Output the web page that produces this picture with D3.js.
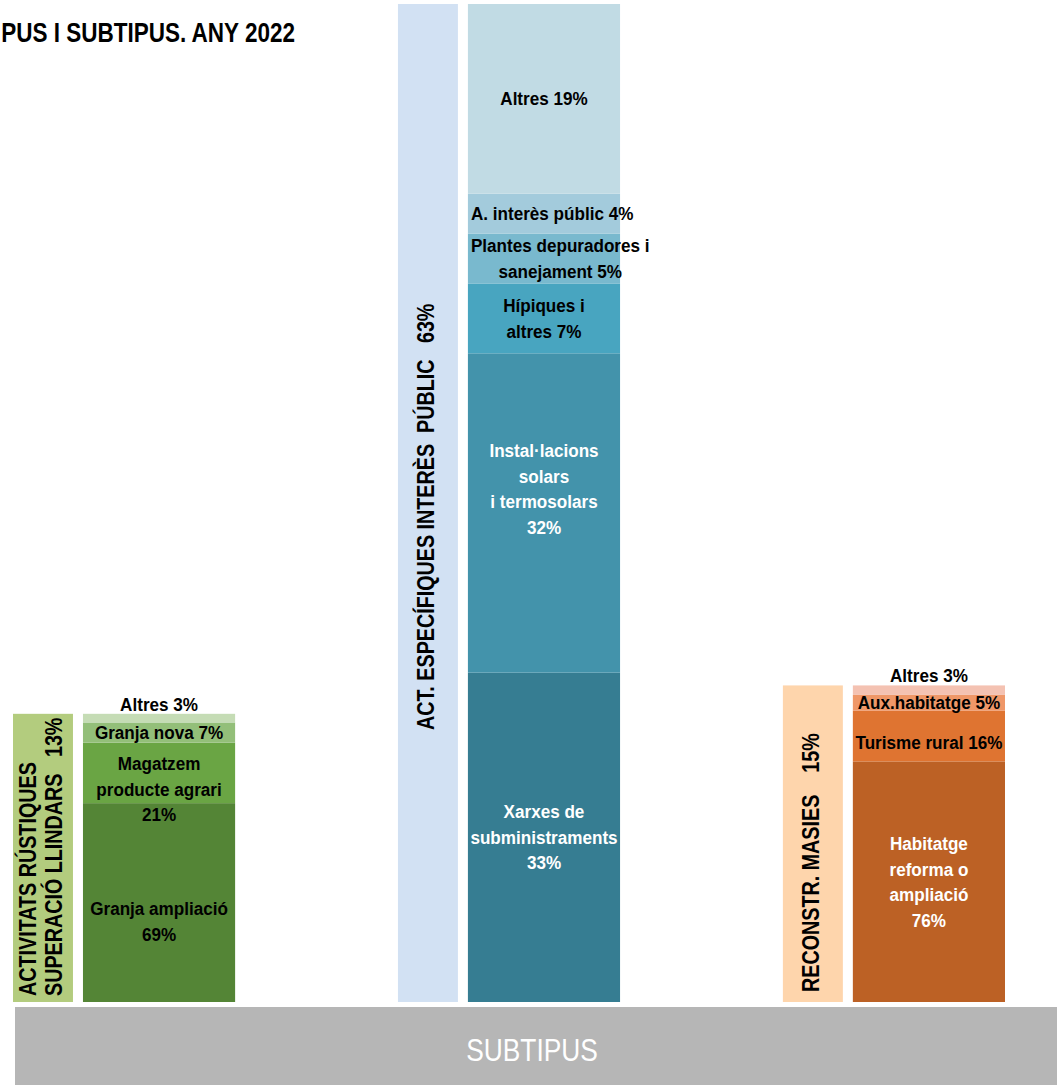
<!DOCTYPE html>
<html><head><meta charset="utf-8">
<script src="https://cdn.jsdelivr.net/npm/d3@7"></script>
<style>
body{margin:0;background:#fff;overflow:hidden;}
svg{display:block;}
text{font-family:"Liberation Sans",Arial,sans-serif;white-space:pre;}
</style></head><body>
<svg id="chart" width="1057" height="1085"></svg>
<script>
// ---------------- data ----------------
const title = "PUS I SUBTIPUS. ANY 2022";
const axisTitle = "SUBTIPUS";
const groups = ["RUS", "AEIP", "MAS"];
const typeNames = ["ACTIVITATS RÚSTIQUES\nSUPERACIÓ LLINDARS   ", "ACT. ESPECÍFIQUES INTERÈS  PÚBLIC   ", "RECONSTR. MASIES    "];
const typeValues = [13, 63, 15];
// subtypes listed from the bottom of each stack to the top
const rusNames = ["Granja ampliació\n", "Magatzem\nproducte agrari\n", "Granja nova ", "Altres "];
const rusValues = [69, 21, 7, 3];
const aeipNames = ["Xarxes de\nsubministraments\n", "Instal·lacions\nsolars\ni termosolars\n", "Hípiques i\naltres ", "Plantes depuradores i\nsanejament ", "A. interès públic ", "Altres "];
const aeipValues = [33, 32, 7, 5, 4, 19];
const masNames = ["Habitatge\nreforma o\nampliació\n", "Turisme rural ", "Aux.habitatge ", "Altres "];
const masValues = [76, 16, 5, 3];

// ---------------- styles ----------------
const typeColors = ["#b3cc7e", "#d2e1f3", "#fed5ac"];
const subColors = [
  ["#548536", "#6aa544", "#93bf79", "#c5dcb5"],
  ["#367d92", "#4393ab", "#48a5c0", "#79b9ce", "#a3cbdc", "#c1dbe4"],
  ["#bc6125", "#df7431", "#ef9768", "#f4c2b2"]
];
const subTextColors = [
  ["#000", "#000", "#000", "#000"],
  ["#fff", "#fff", "#000", "#000", "#000", "#000"],
  ["#fff", "#000", "#000", "#000"]
];
const labelNudge = {"0:0": 19, "0:1": 16, "1:1": -24, "2:1": 6};
const typeLabelStart = [6, 272, 10];
const NARROW_LBL = 0.9, NARROW_TYPE = 0.84, NARROW_AXIS = 0.85;

const subNames = [rusNames, aeipNames, masNames];
const subValues = [rusValues, aeipValues, masValues];

const svg = d3.select("#chart");
const FONT_LBL = 19, LH = 25.5;

// ---------------- scales ----------------
const x0 = d3.scaleBand().domain(groups).range([13, 1005]).paddingInner(0.423).paddingOuter(0);
const xi = d3.scaleLinear().domain([0, 1]).range([0, x0.bandwidth()]);
const y = d3.scaleLinear().domain([-7.3, 63]).range([1002, 4]);
const yBase = y(y.domain()[0]);

// ---------------- title ----------------
const titleT = svg.append("text").attr("text-anchor", "end")
  .attr("font-size", 27).attr("font-weight", "bold").attr("fill", "#000").text(title);
const tw = titleT.node().getComputedTextLength();
titleT.attr("transform", `translate(295,42) scale(${294 / tw},1)`);

// ---------------- bottom band ----------------
svg.append("rect").attr("x", 15).attr("y", 1007).attr("width", 1050).attr("height", 80).attr("fill", "#b6b6b6");
svg.append("text").attr("transform", `translate(532,1061) scale(${NARROW_AXIS},1)`).attr("text-anchor", "middle")
  .attr("font-size", 31).attr("fill", "#fff").text(axisTitle);

// ---------------- groups ----------------
groups.forEach((g, gi) => {
  const gx = x0(g);
  const tv = typeValues[gi];
  const tx0 = gx + xi(0), tx1 = gx + xi(0.27);
  const sx0 = gx + xi(0.315), sx1 = gx + xi(1);
  const G = svg.append("g");

  // type bar
  G.append("rect").attr("x", tx0).attr("y", y(tv)).attr("width", tx1 - tx0)
    .attr("height", yBase - y(tv)).attr("fill", typeColors[gi]);

  // type label (rotated)
  const tLines = (typeNames[gi] + tv + "%").split("\n");
  const tcx = (tx0 + tx1) / 2;
  const FT = 23.5, TLH = 26;
  const firstBase = tcx + FT * 0.35 - (tLines.length - 1) / 2 * TLH - 2;
  const tt = G.append("text")
    .attr("transform", `translate(${firstBase},${yBase - typeLabelStart[gi]}) rotate(-90) scale(${NARROW_TYPE},1)`)
    .attr("font-size", FT).attr("font-weight", "bold").attr("fill", "#000");
  tLines.forEach((l, k) => tt.append("tspan").attr("x", 0).attr("y", k * TLH).text(l));

  // stacked subtype bar
  const vals = subValues[gi];
  const s = d3.scaleLinear().domain([0, d3.sum(vals)]).range([yBase, y(tv)]);
  const cum = [0, ...d3.cumsum(vals)];
  vals.forEach((v, i) => {
    const top = s(cum[i + 1]), bot = s(cum[i]);
    G.append("rect").attr("x", sx0).attr("y", top).attr("width", sx1 - sx0)
      .attr("height", bot - top).attr("fill", subColors[gi][i]);
  });
  vals.forEach((v, i) => {
    const top = s(cum[i + 1]), bot = s(cum[i]);
    const lines = (subNames[gi][i] + v + "%").split("\n");
    const n = lines.length;
    const cy = (top + bot) / 2 + (labelNudge[gi + ":" + i] || 0);
    let firstBaseY;
    if (bot - top < 14 && i === vals.length - 1) {
      firstBaseY = top - 3 - (n - 1) * LH;
    } else {
      firstBaseY = cy + FONT_LBL * 0.35 - (n - 1) / 2 * LH;
    }
    const t = G.append("text").attr("text-anchor", "middle").attr("font-size", FONT_LBL)
      .attr("font-weight", "bold").attr("fill", subTextColors[gi][i]);
    const spans = lines.map((l, k) => t.append("tspan").attr("x", 0).attr("y", firstBaseY + k * LH).text(l));
    const maxW = d3.max(spans, sp => sp.node().getComputedTextLength()) * NARROW_LBL;
    let cx = (sx0 + sx1) / 2;
    if (maxW > sx1 - sx0 - 4) cx = sx0 + 3 + maxW / 2;
    t.attr("transform", `translate(${cx},0) scale(${NARROW_LBL},1)`);
  });
});
</script>
</body></html>
